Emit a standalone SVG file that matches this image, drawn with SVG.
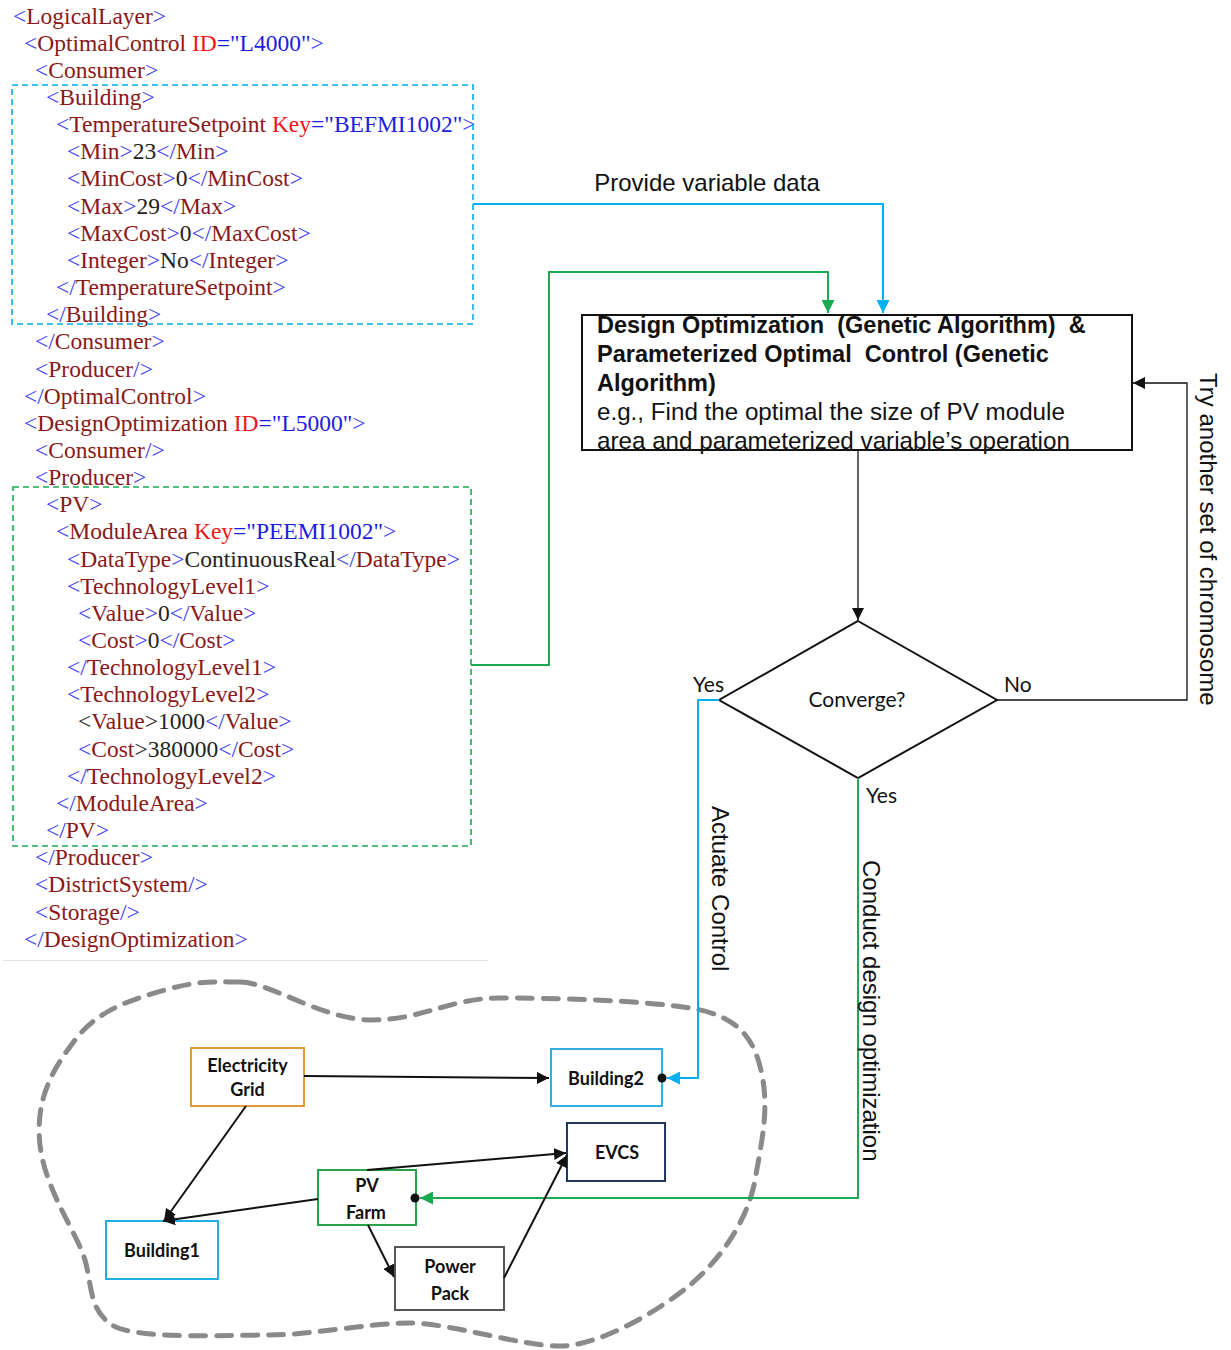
<svg xmlns="http://www.w3.org/2000/svg" width="1231" height="1350" viewBox="0 0 1231 1350">
  <style>
    .x { font-family: "Liberation Serif", "Times New Roman", serif; font-size: 23.5px; }
    .b { fill: #3c3cf2; }
    .n { fill: #8a1818; }
    .a { fill: #f21616; }
    .v { fill: #1c1ce0; }
    .t { fill: #222222; }
    .lbl { font-family: "Liberation Sans", Arial, sans-serif; font-size: 24px; fill: #111111; }
    .box { font-family: "Liberation Sans", Arial, sans-serif; font-size: 23.5px; fill: #111111; white-space: pre; }
    .plain { font-size: 24.2px; }
    .bold { font-weight: bold; }
    .cal { font-family: Lato, "Open Sans", sans-serif; font-size: 21px; fill: #111111; }
    .nt { font-family: Lato, "Open Sans", sans-serif; font-weight: bold; font-size: 18px; fill: #111111; text-anchor: middle; }
    .node rect { fill: #ffffff; stroke-width: 2; }
    .edge { fill: none; stroke: #111111; stroke-width: 2; }
    .flow { fill: none; stroke: #111111; stroke-width: 1.3; }
    .cy { fill: none; stroke: #00b0f0; stroke-width: 2; }
    .gr { fill: none; stroke: #1aab52; stroke-width: 2; }
  </style>
  <defs>
    <marker id="arrK" viewBox="0 0 10 10" refX="10" refY="5" markerWidth="12" markerHeight="12" markerUnits="userSpaceOnUse" orient="auto">
      <path d="M0,0 L10,5 L0,10 z" fill="#111111"/>
    </marker>
    <marker id="arrB" viewBox="0 0 10 10" refX="10" refY="5" markerWidth="13" markerHeight="13" markerUnits="userSpaceOnUse" orient="auto">
      <path d="M0,0 L10,5 L0,10 z" fill="#00b0f0"/>
    </marker>
    <marker id="arrG" viewBox="0 0 10 10" refX="10" refY="5" markerWidth="13" markerHeight="13" markerUnits="userSpaceOnUse" orient="auto">
      <path d="M0,0 L10,5 L0,10 z" fill="#1aab52"/>
    </marker>
  </defs>

  <rect width="1231" height="1350" fill="#ffffff"/>

  <!-- XML listing -->
  <g id="xml-listing" class="x">
    <text x="13" y="23.5"><tspan class="b">&lt;</tspan><tspan class="n">LogicalLayer</tspan><tspan class="b">&gt;</tspan></text>
    <text x="24" y="50.7"><tspan class="b">&lt;</tspan><tspan class="n">OptimalControl </tspan><tspan class="a">ID</tspan><tspan class="v">="L4000"</tspan><tspan class="b">&gt;</tspan></text>
    <text x="35" y="77.8"><tspan class="b">&lt;</tspan><tspan class="n">Consumer</tspan><tspan class="b">&gt;</tspan></text>
    <text x="46" y="105"><tspan class="b">&lt;</tspan><tspan class="n">Building</tspan><tspan class="b">&gt;</tspan></text>
    <text x="56" y="132.1"><tspan class="b">&lt;</tspan><tspan class="n">TemperatureSetpoint </tspan><tspan class="a">Key</tspan><tspan class="v">="BEFMI1002"</tspan><tspan class="b">&gt;</tspan></text>
    <text x="67" y="159.3"><tspan class="b">&lt;</tspan><tspan class="n">Min</tspan><tspan class="b">&gt;</tspan><tspan class="t">23</tspan><tspan class="b">&lt;/</tspan><tspan class="n">Min</tspan><tspan class="b">&gt;</tspan></text>
    <text x="67" y="186.4"><tspan class="b">&lt;</tspan><tspan class="n">MinCost</tspan><tspan class="b">&gt;</tspan><tspan class="t">0</tspan><tspan class="b">&lt;/</tspan><tspan class="n">MinCost</tspan><tspan class="b">&gt;</tspan></text>
    <text x="67" y="213.6"><tspan class="b">&lt;</tspan><tspan class="n">Max</tspan><tspan class="b">&gt;</tspan><tspan class="t">29</tspan><tspan class="b">&lt;/</tspan><tspan class="n">Max</tspan><tspan class="b">&gt;</tspan></text>
    <text x="67" y="240.7"><tspan class="b">&lt;</tspan><tspan class="n">MaxCost</tspan><tspan class="b">&gt;</tspan><tspan class="t">0</tspan><tspan class="b">&lt;/</tspan><tspan class="n">MaxCost</tspan><tspan class="b">&gt;</tspan></text>
    <text x="67" y="267.9"><tspan class="b">&lt;</tspan><tspan class="n">Integer</tspan><tspan class="b">&gt;</tspan><tspan class="t">No</tspan><tspan class="b">&lt;/</tspan><tspan class="n">Integer</tspan><tspan class="b">&gt;</tspan></text>
    <text x="56" y="295"><tspan class="b">&lt;/</tspan><tspan class="n">TemperatureSetpoint</tspan><tspan class="b">&gt;</tspan></text>
    <text x="46" y="322.2"><tspan class="b">&lt;/</tspan><tspan class="n">Building</tspan><tspan class="b">&gt;</tspan></text>
    <text x="35" y="349.3"><tspan class="b">&lt;/</tspan><tspan class="n">Consumer</tspan><tspan class="b">&gt;</tspan></text>
    <text x="35" y="376.5"><tspan class="b">&lt;</tspan><tspan class="n">Producer</tspan><tspan class="b">/&gt;</tspan></text>
    <text x="24" y="403.6"><tspan class="b">&lt;/</tspan><tspan class="n">OptimalControl</tspan><tspan class="b">&gt;</tspan></text>
    <text x="24" y="430.8"><tspan class="b">&lt;</tspan><tspan class="n">DesignOptimization </tspan><tspan class="a">ID</tspan><tspan class="v">="L5000"</tspan><tspan class="b">&gt;</tspan></text>
    <text x="35" y="457.9"><tspan class="b">&lt;</tspan><tspan class="n">Consumer</tspan><tspan class="b">/&gt;</tspan></text>
    <text x="35" y="485"><tspan class="b">&lt;</tspan><tspan class="n">Producer</tspan><tspan class="b">&gt;</tspan></text>
    <text x="46" y="512.2"><tspan class="b">&lt;</tspan><tspan class="n">PV</tspan><tspan class="b">&gt;</tspan></text>
    <text x="56" y="539.4"><tspan class="b">&lt;</tspan><tspan class="n">ModuleArea </tspan><tspan class="a">Key</tspan><tspan class="v">="PEEMI1002"</tspan><tspan class="b">&gt;</tspan></text>
    <text x="67" y="566.5"><tspan class="b">&lt;</tspan><tspan class="n">DataType</tspan><tspan class="b">&gt;</tspan><tspan class="t">ContinuousReal</tspan><tspan class="b">&lt;/</tspan><tspan class="n">DataType</tspan><tspan class="b">&gt;</tspan></text>
    <text x="67" y="593.7"><tspan class="b">&lt;</tspan><tspan class="n">TechnologyLevel1</tspan><tspan class="b">&gt;</tspan></text>
    <text x="78" y="620.8"><tspan class="b">&lt;</tspan><tspan class="n">Value</tspan><tspan class="b">&gt;</tspan><tspan class="t">0</tspan><tspan class="b">&lt;/</tspan><tspan class="n">Value</tspan><tspan class="b">&gt;</tspan></text>
    <text x="78" y="648"><tspan class="b">&lt;</tspan><tspan class="n">Cost</tspan><tspan class="b">&gt;</tspan><tspan class="t">0</tspan><tspan class="b">&lt;/</tspan><tspan class="n">Cost</tspan><tspan class="b">&gt;</tspan></text>
    <text x="67" y="675.1"><tspan class="b">&lt;/</tspan><tspan class="n">TechnologyLevel1</tspan><tspan class="b">&gt;</tspan></text>
    <text x="67" y="702.3"><tspan class="b">&lt;</tspan><tspan class="n">TechnologyLevel2</tspan><tspan class="b">&gt;</tspan></text>
    <text x="78" y="729.4"><tspan class="t">&lt;</tspan><tspan class="n">Value</tspan><tspan class="t">&gt;1000</tspan><tspan class="b">&lt;/</tspan><tspan class="n">Value</tspan><tspan class="b">&gt;</tspan></text>
    <text x="78" y="756.6"><tspan class="b">&lt;</tspan><tspan class="n">Cost</tspan><tspan class="t">&gt;380000</tspan><tspan class="b">&lt;/</tspan><tspan class="n">Cost</tspan><tspan class="b">&gt;</tspan></text>
    <text x="67" y="783.7"><tspan class="b">&lt;/</tspan><tspan class="n">TechnologyLevel2</tspan><tspan class="b">&gt;</tspan></text>
    <text x="56" y="810.9"><tspan class="b">&lt;/</tspan><tspan class="n">ModuleArea</tspan><tspan class="b">&gt;</tspan></text>
    <text x="46" y="838"><tspan class="b">&lt;/</tspan><tspan class="n">PV</tspan><tspan class="b">&gt;</tspan></text>
    <text x="35" y="865.2"><tspan class="b">&lt;/</tspan><tspan class="n">Producer</tspan><tspan class="b">&gt;</tspan></text>
    <text x="35" y="892.3"><tspan class="b">&lt;</tspan><tspan class="n">DistrictSystem</tspan><tspan class="b">/&gt;</tspan></text>
    <text x="35" y="919.5"><tspan class="b">&lt;</tspan><tspan class="n">Storage</tspan><tspan class="b">/&gt;</tspan></text>
    <text x="24" y="946.6"><tspan class="b">&lt;/</tspan><tspan class="n">DesignOptimization</tspan><tspan class="b">&gt;</tspan></text>
  </g>
  <line x1="3" y1="960.5" x2="488" y2="960.5" stroke="#e3e3e3" stroke-width="1"/>

  <!-- highlighted XML sections -->
  <g id="building-section">
    <rect x="12" y="85" width="461" height="239" fill="none" stroke="#00b0f0" stroke-width="1.6" stroke-dasharray="6 4"/>
  </g>
  <g id="pv-section">
    <rect x="13" y="487" width="458" height="359" fill="none" stroke="#1aab52" stroke-width="1.6" stroke-dasharray="6 4"/>
  </g>

  <!-- optimizer -->
  <g id="optimizer">
    <rect x="582" y="315" width="550" height="135" fill="#ffffff" stroke="#111111" stroke-width="2"/>
    <text class="box bold" x="597" y="333">Design Optimization  (Genetic Algorithm)  &amp;</text>
    <text class="box bold" x="597" y="362">Parameterized Optimal  Control (Genetic</text>
    <text class="box bold" x="597" y="391">Algorithm)</text>
    <text class="box plain" x="597" y="420">e.g., Find the optimal the size of PV module</text>
    <text class="box plain" x="597" y="449">area and parameterized variable’s operation</text>
  </g>

  <!-- decision -->
  <g id="converge">
    <polygon points="858,621 997,700 858,778 719,700" fill="#ffffff" stroke="#111111" stroke-width="2"/>
    <text class="cal" x="857" y="707" text-anchor="middle">Converge?</text>
  </g>

  <!-- district system boundary -->
  <path id="district-boundary" d="M240 982 C270 982 322 1020 372 1020 S450 998 500 998 S640 1000 690 1008 S755 1040 762 1075 S762 1140 755 1180 S720 1260 690 1285 S600 1346 560 1346 S450 1323 410 1323 S310 1335 270 1335 S135 1340 112 1325 S92 1285 85 1260 S45 1190 40 1145 S52 1070 75 1040 S130 1000 165 990 S215 982 240 982 Z" fill="none" stroke="#8a8a8a" stroke-width="5" stroke-dasharray="15 11" stroke-linecap="round"/>

  <!-- district components -->
  <g id="electricity-grid" class="node">
    <rect x="191" y="1048" width="113" height="58" stroke="#e09a35"/>
    <text class="nt" x="247.5" y="1072">Electricity</text>
    <text class="nt" x="247.5" y="1096">Grid</text>
  </g>
  <g id="building2" class="node">
    <rect x="551" y="1049" width="111" height="57" stroke="#33aee0"/>
    <text class="nt" x="606" y="1085">Building2</text>
  </g>
  <g id="evcs" class="node">
    <rect x="567" y="1123" width="98" height="58" stroke="#1f3864"/>
    <text class="nt" x="617" y="1159">EVCS</text>
  </g>
  <g id="pv-farm" class="node">
    <rect x="318" y="1170" width="98" height="55" stroke="#26a24a"/>
    <text class="nt" x="367" y="1192">PV</text>
    <text class="nt" x="366" y="1219">Farm</text>
  </g>
  <g id="building1" class="node">
    <rect x="106" y="1221" width="112" height="58" stroke="#1eaee6"/>
    <text class="nt" x="162" y="1257">Building1</text>
  </g>
  <g id="power-pack" class="node">
    <rect x="395" y="1247" width="109" height="63" stroke="#555555"/>
    <text class="nt" x="450" y="1273">Power</text>
    <text class="nt" x="450" y="1300">Pack</text>
  </g>

  <!-- connectors -->
  <g id="connectors">
    <polyline class="cy" points="473,204 883,204 883,313" marker-end="url(#arrB)"/>
    <polyline class="gr" points="471,665 549,665 549,272 828,272 828,313" marker-end="url(#arrG)"/>
    <line class="flow" x1="858" y1="450" x2="858" y2="620" marker-end="url(#arrK)"/>
    <polyline class="flow" points="997,700 1187,700 1187,383 1133,383" marker-end="url(#arrK)"/>
    <polyline class="cy" points="719,700 698,700 698,1078 667,1078" marker-end="url(#arrB)"/>
    <polyline class="gr" points="858,778 858,1198 420,1198" marker-end="url(#arrG)"/>
    <line class="edge" x1="304" y1="1076" x2="549" y2="1078" marker-end="url(#arrK)"/>
    <line class="edge" x1="246" y1="1106" x2="164" y2="1221" marker-end="url(#arrK)"/>
    <line class="edge" x1="318" y1="1199" x2="163" y2="1221" marker-end="url(#arrK)"/>
    <line class="edge" x1="367" y1="1170" x2="566" y2="1153" marker-end="url(#arrK)"/>
    <line class="edge" x1="368" y1="1225" x2="394" y2="1277" marker-end="url(#arrK)"/>
    <line class="edge" x1="504" y1="1278" x2="567" y2="1155" marker-end="url(#arrK)"/>
    <circle cx="662" cy="1078" r="4.5" fill="#111111"/>
    <circle cx="415" cy="1198" r="4.5" fill="#111111"/>
    <text class="lbl" x="707" y="191" text-anchor="middle">Provide variable data</text>
    <text class="cal" x="693" y="692">Yes</text>
    <text class="cal" x="1004" y="692">No</text>
    <text class="cal" x="866" y="803">Yes</text>
    <text class="lbl" transform="translate(1200,373) rotate(90)">Try another set of chromosome</text>
    <text class="lbl" transform="translate(712,806) rotate(90)">Actuate Control</text>
    <text class="lbl" transform="translate(863,860) rotate(90)">Conduct design optimization</text>
  </g>
</svg>
